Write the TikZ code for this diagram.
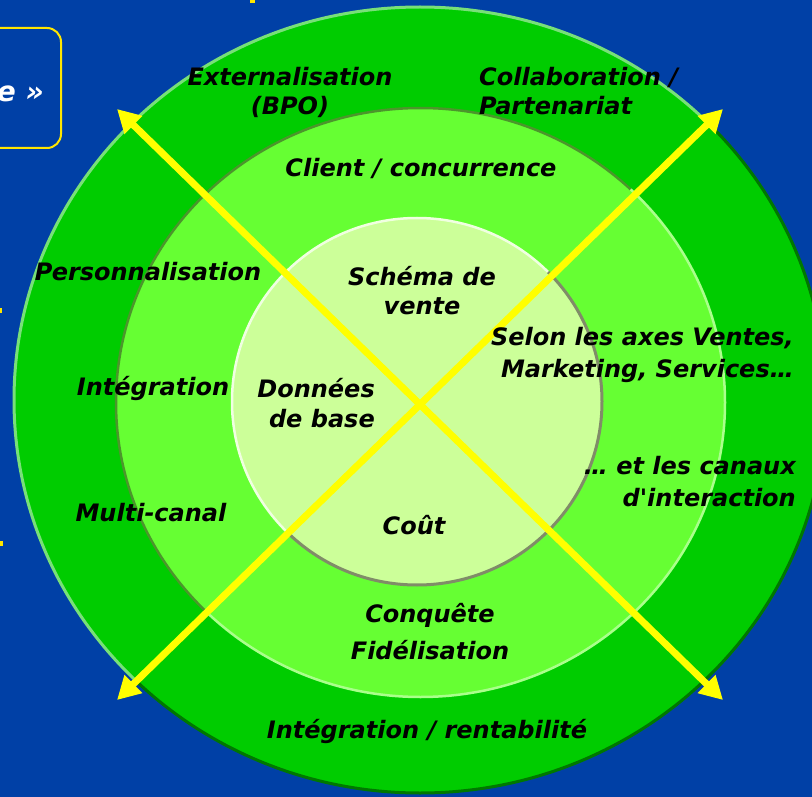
\documentclass[tikz,border=0pt]{standalone}
\usepackage{fontspec}
\setmainfont{DejaVu Sans}[Ligatures=TeXOff]
\usetikzlibrary{arrows.meta}

\definecolor{bgdark}{RGB}{0,64,166}
\definecolor{bglight}{RGB}{0,92,228}
\definecolor{ringout}{RGB}{0,204,0}
\definecolor{ringmid}{RGB}{102,255,51}
\definecolor{ringin}{RGB}{204,255,153}
\definecolor{rimoutlight}{RGB}{120,224,120}
\definecolor{rimoutdark}{RGB}{0,120,0}
\definecolor{rimmiddark}{RGB}{76,150,44}
\definecolor{rimmidlight}{RGB}{170,255,140}
\definecolor{riminlight}{RGB}{240,255,225}
\definecolor{rimindark}{RGB}{128,140,104}
\definecolor{axisyellow}{RGB}{255,255,0}
\definecolor{frameyellow}{RGB}{255,230,0}

\begin{document}
\begin{tikzpicture}[x=1pt,y=-1pt,
  lbl/.style={font=\fontsize{24}{29}\selectfont\bfseries\itshape,
              text=black, inner sep=0pt},
  axis/.style={draw=axisyellow, line width=7pt,
               {Triangle[length=23pt,width=24pt]}-{Triangle[length=23pt,width=24pt]}},
  upperleft/.style={insert path={(-600,1420) -- (1440,-620) -- (-600,-620) -- cycle}},
  lowerright/.style={insert path={(-600,1420) -- (1440,-620) -- (1440,1420) -- cycle}}]

\useasboundingbox (0,0) rectangle (812,797);

% background
\shade[top color=bgdark, middle color=bglight, bottom color=bgdark]
  (0,0) rectangle (812,797);

% framed box on the left
\draw[frameyellow, line width=2pt, rounded corners=14pt] (-40,28) rectangle (61,148);
\node[font=\fontsize{28}{32}\selectfont\bfseries\itshape, text=white,
      anchor=east, inner sep=0pt] (tag) at (44,94) {e »};

% small yellow marks along the edges
\fill[frameyellow] (250,0) rectangle (255,3);
\fill[frameyellow] (0,308) rectangle (2,313);
\fill[frameyellow] (0,541) rectangle (3,546);

% outer ring
\fill[ringout] (420,400) ellipse [x radius=406pt, y radius=393pt];
\begin{scope}
  \clip[upperleft];
  \draw[rimoutlight, line width=3pt] (420,400) ellipse [x radius=406pt, y radius=393pt];
\end{scope}
\begin{scope}
  \clip[lowerright];
  \draw[rimoutdark, line width=3pt] (420,400) ellipse [x radius=406pt, y radius=393pt];
\end{scope}

% middle ring
\fill[ringmid] (420.5,402.5) ellipse [x radius=304.5pt, y radius=294.5pt];
\begin{scope}
  \clip[upperleft];
  \draw[rimmiddark, line width=2.5pt] (420.5,402.5) ellipse [x radius=304.5pt, y radius=294.5pt];
\end{scope}
\begin{scope}
  \clip[lowerright];
  \draw[rimmidlight, line width=2.5pt] (420.5,402.5) ellipse [x radius=304.5pt, y radius=294.5pt];
\end{scope}

% inner disc
\fill[ringin] (417,401.5) ellipse [x radius=185pt, y radius=183.5pt];
\begin{scope}
  \clip[upperleft];
  \draw[riminlight, line width=2.5pt] (417,401.5) ellipse [x radius=185pt, y radius=183.5pt];
\end{scope}
\begin{scope}
  \clip[lowerright];
  \draw[rimindark, line width=3pt] (417,401.5) ellipse [x radius=185pt, y radius=183.5pt];
\end{scope}

% crossing axes
\coordinate (nw) at (117,109);
\coordinate (ne) at (723,109);
\coordinate (se) at (723,700);
\coordinate (sw) at (117,700);
\draw[axis] (nw) -- (se);
\draw[axis] (ne) -- (sw);

% labels
\node[lbl, align=center] (bpo) at (290,92) {Externalisation\\(BPO)};
\node[lbl, align=left, anchor=west] (collab) at (479,91) {Collaboration /\\Partenariat};
\node[lbl] (client) at (421,168) {Client / concurrence};
\node[lbl] (perso) at (148,272) {Personnalisation};
\node[lbl] (integ) at (153,388) {Intégration};
\node[lbl] (multi) at (151,513) {Multi-canal};
\node[lbl, align=center] (schema) at (422,291) {Schéma de\\vente};
\node[lbl, align=right, anchor=east] (donnees) at (375,403) {Données\\[1pt]de base};
\node[lbl] (cout) at (414,525) {Coût};
\node[lbl, align=right, anchor=east] (axes) at (794,355) {Selon les axes Ventes,\\[3pt]Marketing, Services…};
\node[lbl, align=right, anchor=east] (canaux) at (796,482) {… et les canaux\\[3pt]d'interaction};
\node[lbl, align=center] (conquete) at (430,632) {Conquête\\[8pt]Fidélisation};
\node[lbl] (rentab) at (427,731) {Intégration / rentabilité};

\end{tikzpicture}
\end{document}
